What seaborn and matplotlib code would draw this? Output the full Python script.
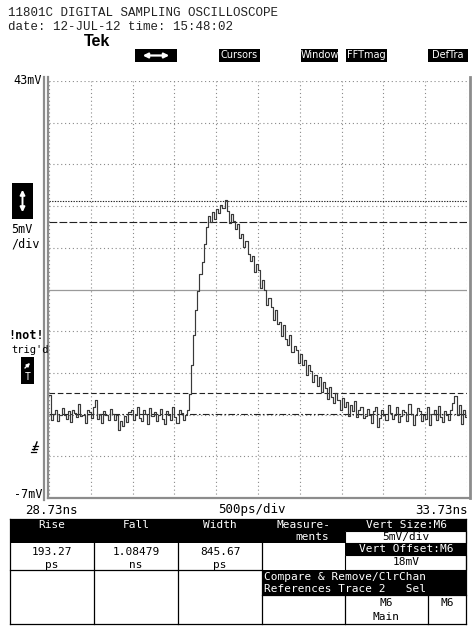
import numpy as np
import matplotlib
matplotlib.use("Agg")
import matplotlib.pyplot as plt
from matplotlib.lines import Line2D
from matplotlib.patches import Rectangle, FancyArrowPatch
import seaborn as sns

# ---------------- data ----------------
t_start_ns = 28.73
t_stop_ns = 33.73
t_step_ns = 0.025
v_top_mV = 43
v_bottom_mV = -7
v_per_div = 5
t_per_div = 0.5

baseline_pre = [5.4, 2.4, 3.1, 3.6, 2.2, 3.0, 3.8, 2.9, 2.5, 3.4,
                2.1, 3.6, 3.2, 2.7, 4.3, 2.8, 3.0, 2.0, 3.5, 3.3,
                2.6, 3.9, 4.8, 2.5, 3.1, 2.0, 3.4, 2.9, 2.4, 3.7,
                3.1, 2.3, 2.9, 1.2, 2.2, 1.6, 2.8, 2.1, 3.3, 3.6,
                2.4, 3.0, 3.9, 2.6, 2.2, 3.5, 3.1, 1.9, 3.8, 2.8,
                3.3, 2.2, 3.0, 3.7, 2.5, 1.9, 3.4, 3.0, 2.3, 3.9,
                2.7, 2.0, 3.5, 3.2, 2.4, 3.0]
pulse = [3.6, 5.5, 9.0, 12.5, 15.5, 17.8, 19.8, 21.3, 23.5, 25.5,
         26.8, 26.1, 27.3, 26.5, 27.6, 27.2, 28.1, 27.8, 28.7,
         27.4, 26.0, 27.1, 26.2, 25.3, 25.9, 24.2, 24.6, 23.1, 23.8,
         22.2, 21.4, 22.0, 20.1, 21.0, 20.3, 18.2, 19.1, 17.9, 16.2,
         17.0, 15.9, 14.4, 15.6, 13.9, 14.1, 12.4, 13.7, 12.1, 11.3,
         12.5, 10.5, 11.2, 10.8, 9.2, 10.3, 8.9, 9.6, 7.8, 9.0,
         8.2, 6.9, 7.8, 6.4, 7.5, 5.7, 6.9, 6.2, 4.9, 6.3, 5.1,
         4.4, 5.6, 4.8, 3.6, 5.0, 3.9, 4.5, 2.8, 4.2, 3.4, 4.6, 2.7, 3.5, 3.9, 2.6]
baseline_post = [2.8, 3.7, 2.9, 2.0, 3.4, 3.9, 1.5, 2.6, 3.5, 3.0,
                 2.3, 4.1, 3.2, 2.5, 3.0, 3.9, 2.1, 2.8, 3.6, 3.3,
                 2.2, 4.3, 3.1, 1.7, 2.9, 3.8, 3.4, 2.2, 3.0, 2.5,
                 3.9, 1.8, 3.1, 3.5, 2.4, 4.0, 2.7, 2.1, 3.4, 3.0,
                 2.3, 3.6, 4.4, 5.2, 3.0, 4.1, 1.9, 3.5, 2.7, 3.2]

cursor_levels_mV = [28.6, 26.1, 5.6, 3.1]
center_level_mV = 18

measure_names = ["Rise", "Fall", "Width"]
measure_values = ["193.27", "1.08479", "845.67"]
measure_units = ["ps", "ns", "ps"]

menu_labels = ["Cursors", "Window", "FFTmag", "DefTra"]

# ---------------- figure ----------------
W, H = 473, 632
fig = plt.figure(figsize=(W / 100, H / 100), dpi=100)
fig.patch.set_facecolor("white")


def fx(x):
    return x / W


def fy(y):
    return 1 - y / H


ax = fig.add_axes([fx(49), fy(498), 418 / W, 417 / H])
ax.set_xlim(t_start_ns, t_stop_ns)
ax.set_ylim(v_bottom_mV, v_top_mV)
ax.set_axis_off()

grid_color = "#8a8a8a"
for k in range(11):
    xv = t_start_ns + k * t_per_div
    ax.axvline(xv, color=grid_color, lw=0.8, ls=(0, (1, 2.5)), zorder=1)
    yv = v_bottom_mV + k * v_per_div
    if abs(yv - center_level_mV) < 1e-6:
        ax.axhline(yv, color="#9a9a9a", lw=0.9, ls="-", zorder=1)
    else:
        ax.axhline(yv, color=grid_color, lw=0.8, ls=(0, (1, 2.5)), zorder=1)

cursor_styles = [(0, (1.2, 1.2)), (0, (7, 2)), (0, (5, 2.5)), (0, (6, 2, 1.5, 2))]
for lvl, st in zip(cursor_levels_mV, cursor_styles):
    ax.axhline(lvl, color="#222222", lw=0.8, ls=st, zorder=2)

values = baseline_pre + pulse + baseline_post
times = t_start_ns + t_step_ns * np.arange(len(values))
sns.lineplot(x=times, y=values, ax=ax, estimator=None, drawstyle="steps-post",
             color="#3a3a3a", lw=0.85, zorder=3, legend=False)


# frame lines
def fline(xs, ys, color="#8c8c8c", lw=1.6):
    fig.add_artist(Line2D([fx(v) for v in xs], [fy(v) for v in ys],
                          transform=fig.transFigure, color=color, lw=lw))


fline([44, 44], [77, 500])
fline([48, 48], [77, 498])
fline([48, 470], [498, 498])
fline([470, 470], [77, 498], lw=2.0)

mono = "DejaVu Sans Mono"
cour = "Liberation Mono"

# header
fig.text(fx(8), fy(13), "11801C DIGITAL SAMPLING OSCILLOSCOPE", family=cour,
         fontsize=9, va="center", ha="left", color="#222")
fig.text(fx(8), fy(27), "date: 12-JUL-12 time: 15:48:02", family=cour,
         fontsize=9, va="center", ha="left", color="#222")
fig.text(fx(97), fy(41), "Tek", family="Liberation Sans", fontweight="bold",
         fontsize=11.5, va="center", ha="center", color="black")


def fbox(x0, y0, x1, y1, fc="black", ec="black", lw=0.0):
    fig.add_artist(Rectangle((fx(x0), fy(y1)), (x1 - x0) / W, (y1 - y0) / H,
                             transform=fig.transFigure, facecolor=fc,
                             edgecolor=ec, lw=lw))


# menu boxes
fbox(135, 49, 177, 62)
fig.add_artist(FancyArrowPatch(
    (fx(140), fy(55.5)), (fx(172), fy(55.5)), transform=fig.transFigure,
    arrowstyle="<|-|>", mutation_scale=7, color="white", lw=1.6))

menu_boxes = [(219, 260), (301, 338), (346, 387), (428, 468)]
for lab, (x0, x1) in zip(menu_labels, menu_boxes):
    fbox(x0, 49, x1, 62)
    fig.text(fx((x0 + x1) / 2), fy(55.5), lab,
             family=["Liberation Sans Narrow", "DejaVu Sans"],
             fontsize=7, color="white", va="center", ha="center")

# left labels
fig.text(fx(42), fy(81), "43mV", family=mono, fontsize=8.5, ha="right", va="center")
fig.text(fx(42), fy(495), "-7mV", family=mono, fontsize=8.5, ha="right", va="center")
fbox(12, 183, 33, 219)
fig.add_artist(FancyArrowPatch(
    (fx(22.5), fy(187)), (fx(22.5), fy(215)), transform=fig.transFigure,
    arrowstyle="<|-|>", mutation_scale=7, color="white", lw=1.4))
fig.text(fx(11), fy(230), "5mV", family=mono, fontsize=8.5, ha="left", va="center")
fig.text(fx(11), fy(244), "/div", family=mono, fontsize=8.5, ha="left", va="center")
fig.text(fx(8), fy(336), "!not!", family=mono, fontsize=8.5, fontweight="bold",
         ha="left", va="center")
fig.text(fx(11), fy(350), "trig'd", family=mono, fontsize=7.5, ha="left", va="center")
fbox(21, 357, 34, 384)
fig.add_artist(FancyArrowPatch(
    (fx(23), fy(370)), (fx(32), fy(361)), transform=fig.transFigure,
    arrowstyle="-|>", mutation_scale=5, color="white", lw=1.0))
fig.text(fx(27.5), fy(377.5), "T", family=mono, fontsize=7, color="white",
         ha="center", va="center")
# ground symbol
fline([34, 37], [450, 442], color="black", lw=1.0)
fline([33, 38], [446, 446], color="black", lw=0.9)
fline([32, 37], [449, 449], color="black", lw=0.9)
fline([31, 36], [452, 452], color="black", lw=0.9)

# bottom axis labels
fig.text(fx(25), fy(510), "28.73ns", family=mono, fontsize=9, ha="left", va="center")
fig.text(fx(252), fy(510), "500ps/div", family=mono, fontsize=9, ha="center", va="center")
fig.text(fx(468), fy(510), "33.73ns", family=mono, fontsize=9, ha="right", va="center")

# ---------------- table ----------------
cols = [10, 94, 178, 262, 345, 428, 466]
tfs = 8
fbox(10, 519, 345, 543)
fbox(345, 519, 466, 531)
fbox(345, 531, 466, 543, fc="white", ec="black", lw=0.8)
fbox(345, 543, 466, 555)
fbox(345, 555, 466, 570, fc="white", ec="black", lw=0.8)
fbox(262, 570, 466, 595)

for i, (n, v, u) in enumerate(zip(measure_names, measure_values, measure_units)):
    cx = (cols[i] + cols[i + 1]) / 2
    fig.text(fx(cx), fy(525), n, family=mono, fontsize=tfs, color="white",
             ha="center", va="center")
    fig.text(fx(cx), fy(552), v, family=mono, fontsize=tfs, ha="center", va="center")
    fig.text(fx(cx), fy(565), u, family=mono, fontsize=tfs, ha="center", va="center")

fig.text(fx(303), fy(525), "Measure-", family=mono, fontsize=tfs, color="white",
         ha="center", va="center")
fig.text(fx(312), fy(537), "ments", family=mono, fontsize=tfs, color="white",
         ha="center", va="center")
fig.text(fx(406), fy(525), "Vert Size:M6", family=mono, fontsize=tfs, color="white",
         ha="center", va="center")
fig.text(fx(406), fy(537), "5mV/div", family=mono, fontsize=tfs, ha="center", va="center")
fig.text(fx(406), fy(549), "Vert Offset:M6", family=mono, fontsize=tfs, color="white",
         ha="center", va="center")
fig.text(fx(406), fy(562), "18mV", family=mono, fontsize=tfs, ha="center", va="center")
fig.text(fx(264), fy(577), "Compare & Remove/ClrChan", family=mono, fontsize=tfs,
         color="white", ha="left", va="center")
fig.text(fx(264), fy(589), "References Trace 2   Sel", family=mono, fontsize=tfs,
         color="white", ha="left", va="center")
fig.text(fx(386), fy(603), "M6", family=mono, fontsize=tfs, ha="center", va="center")
fig.text(fx(386), fy(617), "Main", family=mono, fontsize=tfs, ha="center", va="center")
fig.text(fx(447), fy(603), "M6", family=mono, fontsize=tfs, ha="center", va="center")

# table borders
bc = "black"
fline([10, 466], [519, 519], color=bc, lw=0.9)
fline([10, 466], [624, 624], color=bc, lw=0.9)
fline([10, 10], [519, 624], color=bc, lw=0.9)
fline([466, 466], [519, 624], color=bc, lw=0.9)
fline([10, 262], [570, 570], color=bc, lw=0.9)
fline([262, 466], [595, 595], color=bc, lw=0.9)
for c in [94, 178, 262]:
    fline([c, c], [543, 624], color=bc, lw=0.9)
fline([345, 345], [595, 624], color=bc, lw=0.9)
fline([428, 428], [595, 624], color=bc, lw=0.9)

fig.savefig("out.png", dpi=100, facecolor="white")
